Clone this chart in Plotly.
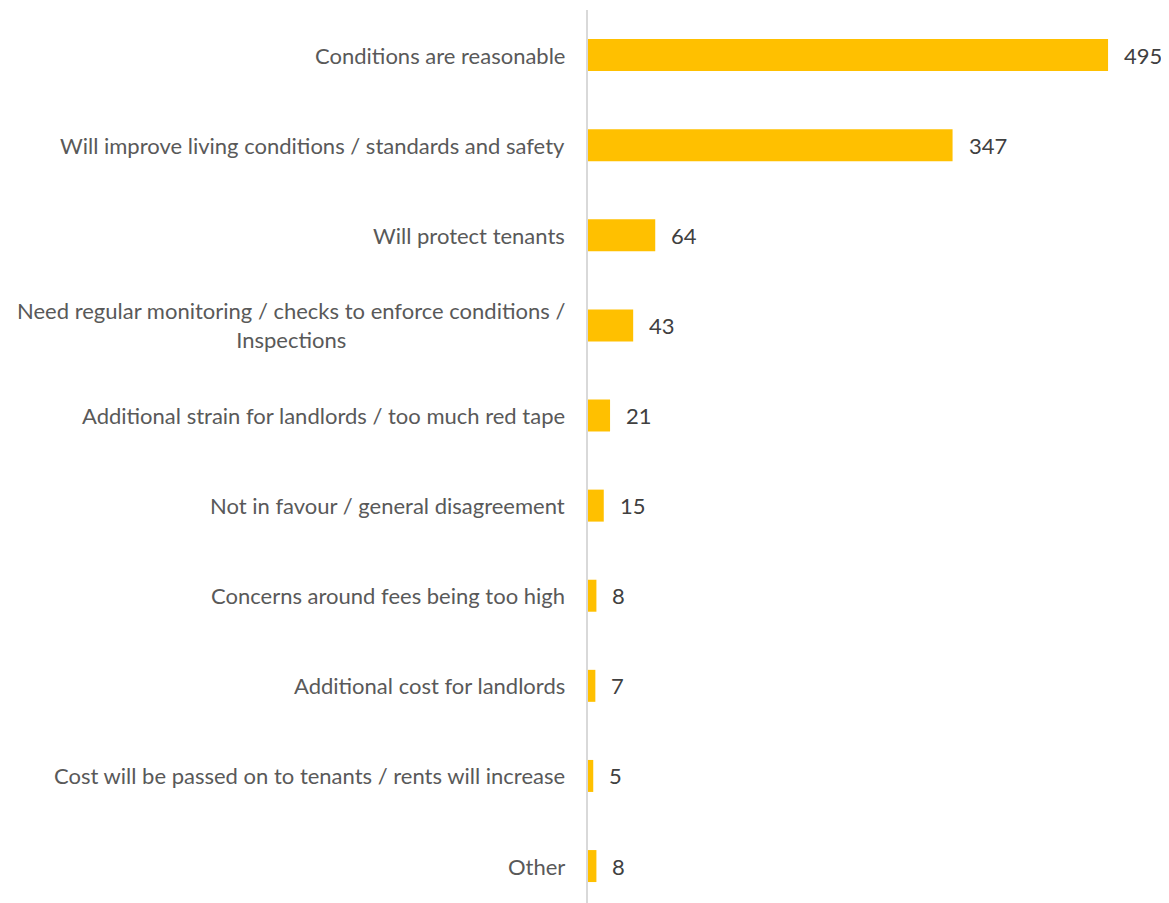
import plotly.graph_objects as go

categories = [
    "Conditions are reasonable",
    "Will improve living conditions / standards and safety",
    "Will protect tenants",
    "Need regular monitoring / checks to enforce conditions /<br>Inspections",
    "Additional strain for landlords / too much red tape",
    "Not in favour / general disagreement",
    "Concerns around fees being too high",
    "Additional cost for landlords",
    "Cost will be passed on to tenants / rents will increase",
    "Other",
]
values = [495, 347, 64, 43, 21, 15, 8, 7, 5, 8]

FONT = "Lato"
FS = 22

fig = go.Figure()
fig.add_trace(go.Bar(
    x=values,
    y=list(range(len(categories))),
    orientation="h",
    marker=dict(color="#FFC000", line=dict(width=0)),
    width=0.355,
    hoverinfo="skip",
))

annotations = []
for i, (c, v) in enumerate(zip(categories, values)):
    annotations.append(dict(
        x=0, xref="paper", y=i, yref="y", text=c, showarrow=False,
        xanchor="right", yanchor="middle", align="center", xshift=-21,
        font=dict(family=FONT, size=FS, color="#595959"),
    ))
    annotations.append(dict(
        x=v, xref="x", y=i, yref="y", text=str(v), showarrow=False,
        xanchor="left", yanchor="middle", xshift=14,
        font=dict(family=FONT, size=FS, color="#404040"),
    ))

fig.update_layout(
    width=1161, height=895,
    margin=dict(l=580, r=0, t=2, b=0),
    paper_bgcolor="white", plot_bgcolor="white",
    showlegend=False,
    annotations=annotations,
    xaxis=dict(range=[0, 553], showgrid=False, zeroline=False,
               showticklabels=False, showline=False, ticks=""),
    yaxis=dict(range=[9.41, -0.5], showgrid=False, zeroline=False,
               showticklabels=False, ticks="", showline=True,
               linecolor="#D9D9D9", linewidth=2),
)

fig.write_html("out.html")
